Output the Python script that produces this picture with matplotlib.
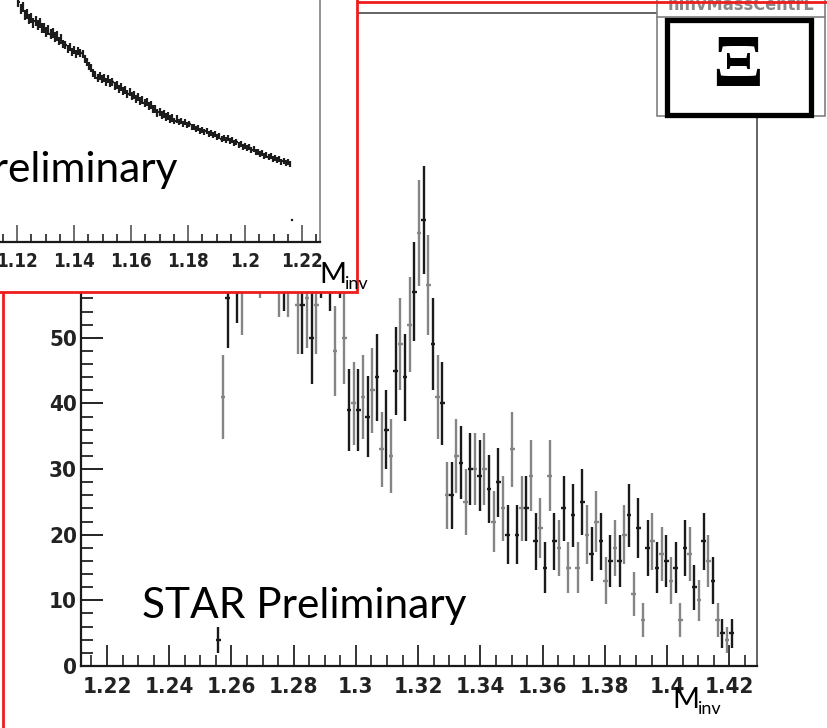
import numpy as np
import matplotlib
matplotlib.use("Agg")
from matplotlib import pyplot as plt
from matplotlib.patches import Rectangle
from matplotlib.lines import Line2D
from matplotlib.ticker import MultipleLocator, FuncFormatter

# Xi candidates: counts per 1.5 MeV bin, first bin centred at 1.25575 GeV
xi_first_center = 1.25575
xi_bin_width = 0.0015
xi_counts = [
    4, 41, 56, 72, 60, 58, 74, 78, 76, 64, 75, 80, 73, 61, 62, 61,
    70, 55, 55, 56, 50, 55, 64, 70, 62, 48, 64, 50, 39, 40, 39, 41,
    38, 42, 44, 33, 36, 32, 45, 49, 44, 52, 57, 66, 68, 58, 49, 41,
    40, 26, 26, 32, 31, 25, 30, 30, 29, 30, 27, 22, 28, 24, 20, 33,
    20, 24, 24, 29, 19, 21, 15, 29, 19, 18, 24, 15, 23, 15, 25, 20,
    17, 22, 19, 13, 16, 18, 16, 20, 23, 11, 21, 7, 18, 19, 15, 17,
    16, 13, 15, 7, 18, 17, 12, 10, 19, 16, 13, 7, 5, 4, 5,
]

# Lambda side band (inset): counts per 0.75 MeV bin, first bin at 1.1205 GeV
lam_first_center = 1.1205
lam_bin_width = 0.00075
lam_counts = [
    2400, 2330, 2350, 2270, 2280, 2230, 2240, 2190, 2210, 2170,
    2190, 2140, 2140, 2100, 2120, 2080, 2090, 2050, 2060, 2010,
    2030, 1980, 1970, 1930, 1950, 1900, 1920, 1880, 1910, 1890,
    1880, 1830, 1800, 1760, 1740, 1690, 1670, 1640, 1660, 1630,
    1640, 1600, 1630, 1590, 1600, 1560, 1570, 1530, 1550, 1510,
    1520, 1480, 1500, 1460, 1470, 1430, 1450, 1410, 1420, 1390,
    1400, 1360, 1370, 1330, 1330, 1290, 1300, 1270, 1280, 1250,
    1260, 1230, 1240, 1210, 1230, 1200, 1210, 1180, 1200, 1170,
    1180, 1150, 1150, 1130, 1140, 1110, 1120, 1100, 1110, 1080,
    1090, 1070, 1080, 1050, 1060, 1030, 1040, 1020, 1040, 1010,
    1020, 990, 1000, 970, 980, 950, 960, 940, 950, 920,
    930, 900, 900, 880, 890, 860, 870, 850, 860, 830,
    840, 820, 830, 800, 810, 790, 800, 780, 220,
]

W, H = 827, 728
RED = '#ee1c1c'
tick_family = ['Liberation Sans Narrow', 'DejaVu Sans']
text_font = ['Lato', 'DejaVu Sans']


def box(x0, y0, x1, y1):
    # pixel box (origin top-left) -> figure fraction [l, b, w, h]
    return [x0 / W, 1 - y1 / H, (x1 - x0) / W, (y1 - y0) / H]


def px_rect(x0, y0, x1, y1, **kw):
    l, b, w, h = box(x0, y0, x1, y1)
    fig.add_artist(Rectangle((l, b), w, h, transform=fig.transFigure, **kw))


def px_line(xs, ys, **kw):
    fig.add_artist(Line2D([x / W for x in xs], [1 - y / H for y in ys],
                          transform=fig.transFigure, **kw))


def root_fmt(v, pos):
    return format(round(v, 3), 'g')


def style_axis(a, label_size):
    for lab in a.get_xticklabels() + a.get_yticklabels():
        lab.set_fontfamily(tick_family)
        lab.set_fontweight('bold')
        lab.set_fontstretch('condensed')
        lab.set_fontsize(label_size)
        lab.set_color('#222222')


fig = plt.figure(figsize=(W / 100, H / 100), dpi=100)
fig.patch.set_facecolor('white')

# ---- main Xi invariant mass histogram ----
ax = fig.add_axes(box(80.5, 13, 757.4, 666))
ax.set_xlim(1.2115, 1.429)
ax.set_ylim(0, 99.5)

xi_counts = np.array(xi_counts, dtype=float)
xi_x = xi_first_center + xi_bin_width * np.arange(len(xi_counts))
xi_err = np.sqrt(xi_counts)
for parity, col in ((0, '#1a1a1a'), (1, '#858585')):
    sel = slice(parity, None, 2)
    ax.errorbar(xi_x[sel], xi_counts[sel], yerr=xi_err[sel],
                xerr=xi_bin_width / 2, fmt='none', ecolor=col,
                elinewidth=1.7, capsize=0)

ax.xaxis.set_major_locator(MultipleLocator(0.02))
ax.xaxis.set_minor_locator(MultipleLocator(0.005))
ax.yaxis.set_major_locator(MultipleLocator(10))
ax.yaxis.set_minor_locator(MultipleLocator(2))
ax.xaxis.set_major_formatter(FuncFormatter(root_fmt))
ax.yaxis.set_major_formatter(FuncFormatter(root_fmt))
ax.tick_params(axis='x', which='major', direction='in', length=15, width=1.3,
               pad=8, color='#222222')
ax.tick_params(axis='x', which='minor', direction='in', length=8, width=1.2,
               color='#222222')
ax.tick_params(axis='y', which='major', direction='in', length=16, width=1.4,
               pad=2.5, color='#222222')
ax.tick_params(axis='y', which='minor', direction='in', length=8.5, width=1.3,
               color='#222222')
for side in ('left', 'bottom'):
    ax.spines[side].set_color('#1a1a1a')
    ax.spines[side].set_linewidth(1.6)
for side in ('top', 'right'):
    ax.spines[side].set_color('#4a4a4a')
    ax.spines[side].set_linewidth(1.2)
style_axis(ax, 16)

# ---- stats box in the upper right ----
px_rect(657, -5, 825, 116, fc='white', ec='#808080', lw=1.2, zorder=1)
px_line([657, 825], [17, 17], color='#808080', lw=1.2, zorder=1.1)
fig.text(741 / W, 1 - 10 / H, 'hInvMassCentrL', ha='center', va='baseline',
         fontsize=13, color='#8a8a8a', zorder=1.2, family=tick_family,
         fontweight='bold', fontstretch='condensed')
px_rect(666.5, 19.5, 810.5, 114.5, fc='white', ec='black', lw=3.8, zorder=1.2)
fig.text(738 / W, 1 - 68 / H, '\u039e', ha='center', va='center',
         fontsize=54, fontweight='bold',
         family=['Liberation Serif', 'DejaVu Serif'], zorder=1.3)

# red frame of the main panel
px_rect(3, 1.5, 900, 800, fill=False, ec=RED, lw=2, zorder=1.5)

# ---- inset panel: Lambda mass tail ----
px_rect(-20, -20, 357, 292, fc='white', ec=RED, lw=2, zorder=2)

ax2 = fig.add_axes(box(-97, -158, 320, 242))
ax2.set_zorder(3)
ax2.patch.set_alpha(0)
ax2.set_xlim(1.08, 1.2263)
ax2.set_ylim(0, 4000)

lam_counts = np.array(lam_counts, dtype=float)
lam_x = lam_first_center + lam_bin_width * np.arange(len(lam_counts))
ax2.errorbar(lam_x, lam_counts, yerr=np.sqrt(lam_counts),
             xerr=lam_bin_width / 2, fmt='none', ecolor='#1c1c1c',
             elinewidth=1.6, capsize=0)

ax2.xaxis.set_major_locator(MultipleLocator(0.02))
ax2.xaxis.set_minor_locator(MultipleLocator(0.005))
ax2.xaxis.set_major_formatter(FuncFormatter(root_fmt))
ax2.set_yticks([])
ax2.tick_params(axis='x', which='major', direction='in', length=12, width=1.2,
                pad=7, color='#555555')
ax2.tick_params(axis='x', which='minor', direction='in', length=6, width=1.2,
                color='#222222')
ax2.spines['bottom'].set_color('#1a1a1a')
ax2.spines['bottom'].set_linewidth(1.6)
ax2.spines['right'].set_color('#808080')
ax2.spines['right'].set_linewidth(1.2)
ax2.spines['left'].set_visible(False)
ax2.spines['top'].set_visible(False)
style_axis(ax2, 13.5)

# ---- annotations ----
fig.text(142 / W, 1 - 618 / H, 'STAR Preliminary', fontsize=30.5,
         family=text_font, va='baseline', ha='left', zorder=6)
fig.text(-147 / W, 1 - 182 / H, 'STAR Preliminary', fontsize=30.5,
         family=text_font, va='baseline', ha='left', zorder=6)

for mx, my in ((319, 283), (672, 708)):
    fig.text(mx / W, 1 - my / H, 'M', fontsize=21, family=text_font,
             va='baseline', ha='left', zorder=6)
    fig.text((mx + 26) / W, 1 - (my + 6) / H, 'inv', fontsize=13,
             family=text_font, va='baseline', ha='left', zorder=6)

fig.savefig('out.png', dpi=100, facecolor='white')
